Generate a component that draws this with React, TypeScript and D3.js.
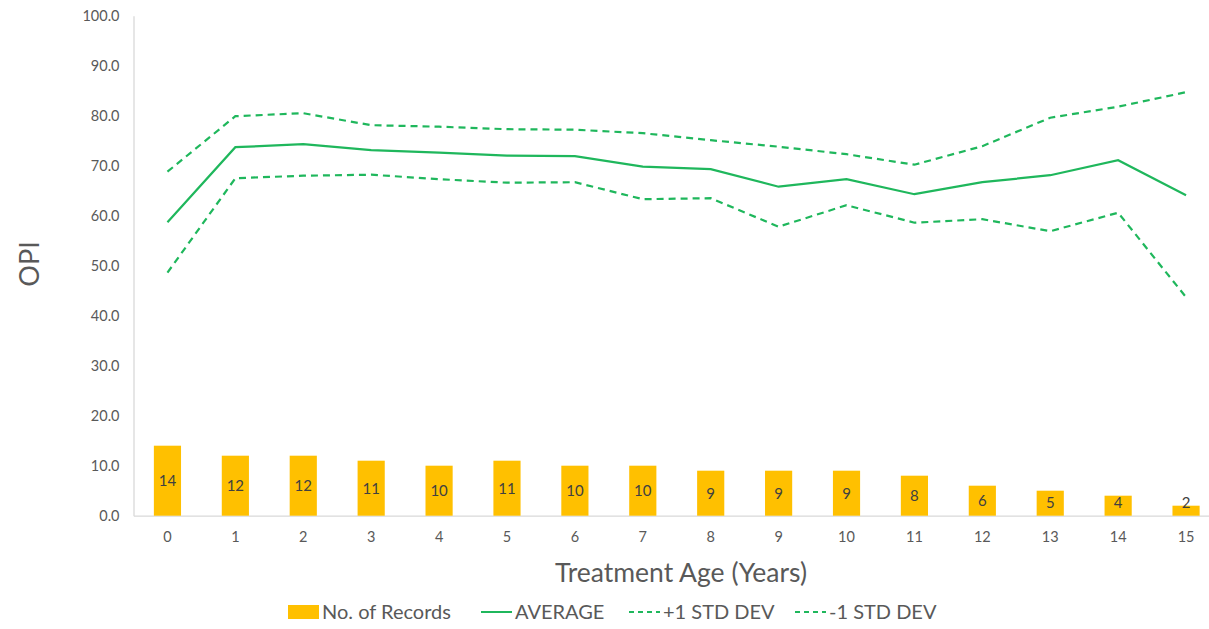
import React, { useEffect, useRef } from 'react'
import * as d3 from 'd3'

const ages = ['0', '1', '2', '3', '4', '5', '6', '7', '8', '9', '10', '11', '12', '13', '14', '15']
const records = [14, 12, 12, 11, 10, 11, 10, 10, 9, 9, 9, 8, 6, 5, 4, 2]
const average = [58.7, 73.7, 74.3, 73.1, 72.6, 72.0, 71.9, 69.8, 69.3, 65.8, 67.3, 64.3, 66.7, 68.1, 71.1, 64.1]
const plusStd = [68.8, 79.9, 80.5, 78.1, 77.8, 77.3, 77.2, 76.5, 75.1, 73.8, 72.3, 70.2, 73.9, 79.6, 81.8, 84.7]
const minusStd = [48.6, 67.5, 68.0, 68.2, 67.3, 66.6, 66.7, 63.3, 63.5, 57.8, 62.1, 58.6, 59.3, 56.9, 60.6, 43.7]
const yTicks = [0, 10, 20, 30, 40, 50, 60, 70, 80, 90, 100]

const width = 1209
const height = 629
const font = 'Lato, "Noto Sans", sans-serif'
const green = '#1fb75c'
const gold = '#ffc000'

export default function App() {
  const node = useRef<SVGSVGElement | null>(null)

  useEffect(() => {
    document.body.style.margin = '0'
    const svg = d3.select(node.current)
    svg.selectAll('*').remove()

    const x = d3.scaleBand().domain(ages).range([133.5, 1220]).paddingInner(0.6).paddingOuter(0.3)
    const y = d3.scaleLinear().domain([0, 100]).range([515.7, 15.7])
    const cx = (i) => x(ages[i]) + x.bandwidth() / 2

    // axes
    const yAxis = svg
      .append('g')
      .attr('transform', 'translate(133.5,0)')
      .call(d3.axisLeft(y).tickValues(yTicks).tickFormat(d3.format('.1f')).tickSize(0).tickPadding(14))
    yAxis.select('.domain').attr('stroke', '#d9d9d9').attr('stroke-width', 1.3)
    yAxis.selectAll('text').attr('font-family', font).attr('font-size', 14.5).attr('fill', '#595959')

    const xAxis = svg
      .append('g')
      .attr('transform', 'translate(0,515.7)')
      .call(d3.axisBottom(x).tickSize(0).tickPadding(16))
    xAxis.select('.domain').attr('stroke', '#d9d9d9').attr('stroke-width', 1.3)
    xAxis.selectAll('text').attr('font-family', font).attr('font-size', 14.5).attr('fill', '#595959')

    // bars
    svg
      .append('g')
      .selectAll('rect')
      .data(records)
      .join('rect')
      .attr('x', (d, i) => x(ages[i]))
      .attr('y', (d) => y(d))
      .attr('width', x.bandwidth())
      .attr('height', (d) => y(0) - y(d))
      .attr('fill', gold)

    svg
      .append('g')
      .selectAll('text')
      .data(records)
      .join('text')
      .attr('x', (d, i) => cx(i))
      .attr('y', (d) => Math.min((y(d) + y(0)) / 2, y(0) - 13) + 5.5)
      .attr('text-anchor', 'middle')
      .attr('font-family', font)
      .attr('font-size', 15)
      .attr('fill', '#404040')
      .text((d) => d)

    // lines
    const line = d3
      .line<number>()
      .x((d, i) => cx(i))
      .y((d) => y(d))
    const series = [
      { values: average, dash: null },
      { values: plusStd, dash: '7,5' },
      { values: minusStd, dash: '7,5' }
    ]
    svg
      .append('g')
      .selectAll('path')
      .data(series)
      .join('path')
      .attr('d', (s) => line(s.values))
      .attr('fill', 'none')
      .attr('stroke', green)
      .attr('stroke-width', 2.2)
      .attr('stroke-dasharray', (s) => s.dash)

    // titles
    svg
      .append('text')
      .attr('transform', 'translate(39,264) rotate(-90)')
      .attr('text-anchor', 'middle')
      .attr('font-family', font)
      .attr('font-size', 27)
      .attr('fill', '#595959')
      .text('OPI')
    svg
      .append('text')
      .attr('x', 681)
      .attr('y', 582)
      .attr('text-anchor', 'middle')
      .attr('font-family', font)
      .attr('font-size', 26.5)
      .attr('fill', '#595959')
      .text('Treatment Age (Years)')

    // legend
    const legendItems = [
      { label: 'No. of Records', type: 'bar', x: 288 },
      { label: 'AVERAGE', type: 'line', x: 481 },
      { label: '+1 STD DEV', type: 'dash', x: 629 },
      { label: '-1 STD DEV', type: 'dash', x: 795 }
    ]
    const lg = svg
      .append('g')
      .selectAll('g')
      .data(legendItems)
      .join('g')
      .attr('transform', (d) => `translate(${d.x},612)`)
    lg.filter((d) => d.type === 'bar')
      .append('rect')
      .attr('x', 0)
      .attr('y', -7)
      .attr('width', 31)
      .attr('height', 14)
      .attr('fill', gold)
    lg.filter((d) => d.type !== 'bar')
      .append('line')
      .attr('x1', 0)
      .attr('x2', 31)
      .attr('stroke', green)
      .attr('stroke-width', 2)
      .attr('stroke-dasharray', (d) => (d.type === 'dash' ? '5,4' : null))
    lg.append('text')
      .attr('x', 34)
      .attr('y', 7)
      .attr('font-family', font)
      .attr('font-size', 20)
      .attr('fill', '#595959')
      .text((d) => d.label)
  }, [])

  return <svg ref={node} width={width} height={height} style={{ display: 'block' }}></svg>
}
